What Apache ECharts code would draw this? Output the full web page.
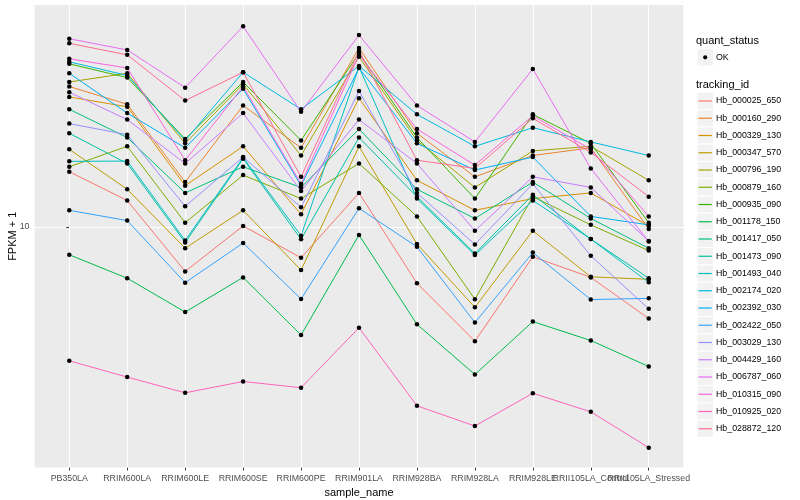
<!DOCTYPE html>
<html><head><meta charset="utf-8">
<script src="https://cdn.jsdelivr.net/npm/echarts@6/dist/echarts.min.js"></script>
<style>html,body{margin:0;padding:0;background:#fff}#c{width:800px;height:500px}</style>
</head><body><div id="c"></div>
<script>
const categories = ['PB350LA','RRIM600LA','RRIM600LE','RRIM600SE','RRIM600PE','RRIM901LA','RRIM928BA','RRIM928LA','RRIM928LE','RRII105LA_Control','RRII105LA_Stressed'];
const trackingIds = ['Hb_000025_650','Hb_000160_290','Hb_000329_130','Hb_000347_570','Hb_000796_190','Hb_000879_160','Hb_000935_090','Hb_001178_150','Hb_001417_050','Hb_001473_090','Hb_001493_040','Hb_002174_020','Hb_002392_030','Hb_002422_050','Hb_003029_130','Hb_004429_160','Hb_006787_060','Hb_010315_090','Hb_010925_020','Hb_028872_120'];
const colors = ['#F8766D','#EA8331','#D89000','#C09B00','#A3A500','#7CAE00','#39B600','#00BB4E','#00BF7D','#00C1A3','#00BFC4','#00BAE0','#00B0F6','#35A2FF','#9590FF','#C77CFF','#E76BF3','#FA62DB','#FF62BC','#FF6C91'];
const yTicks = [10];

// FPKM + 1 per sample, in category order
const Hb_000025_650 = [12.9, 11.3, 8.15, 10.05, 8.68, 11.7, 7.72, 5.91, 8.72, 7.93, 6.56];
const Hb_000160_290 = [19.1, 17.6, 12.3, 17.5, 14.4, 22.8, 15.4, 12.6, 13.9, 14.4, 9.91];
const Hb_000329_130 = [18.2, 17.4, 12.1, 14.5, 10.6, 18.1, 12.4, 10.8, 11.4, 11.7, 10.05];
const Hb_000347_570 = [14.3, 11.9, 9.07, 10.8, 8.20, 14.5, 9.25, 6.91, 9.83, 7.95, 7.86];
const Hb_000796_190 = [19.5, 20.3, 14.7, 19.3, 13.9, 21.9, 14.9, 12.0, 14.2, 14.5, 12.4];
const Hb_000879_160 = [13.2, 14.5, 10.2, 12.7, 11.4, 13.4, 10.5, 7.17, 11.5, 10.1, 8.97];
const Hb_000935_090 = [21.2, 19.9, 15.0, 19.5, 14.9, 22.3, 15.1, 11.4, 16.8, 14.7, 10.2];
const Hb_001178_150 = [8.80, 7.90, 6.76, 7.93, 6.08, 9.64, 6.39, 5.07, 6.47, 5.93, 5.26];
const Hb_001417_050 = [17.2, 15.1, 11.7, 13.2, 12.0, 15.7, 11.9, 10.4, 12.3, 10.4, 9.07];
const Hb_001473_090 = [15.4, 13.4, 9.31, 13.7, 9.45, 15.1, 11.5, 8.85, 11.6, 9.46, 7.90];
const Hb_001493_040 = [13.53, 13.55, 9.40, 13.77, 9.61, 20.9, 11.4, 8.79, 11.3, 9.46, 7.75];
const Hb_002174_020 = [21.4, 20.1, 14.9, 20.4, 17.2, 21.0, 16.8, 14.5, 15.8, 14.8, 13.9];
const Hb_002392_030 = [20.3, 16.9, 14.4, 18.9, 12.1, 20.8, 14.7, 13.0, 13.8, 10.5, 10.1];
const Hb_002422_050 = [10.8, 10.3, 7.74, 9.29, 7.18, 10.9, 9.13, 6.44, 8.89, 7.16, 7.20];
const Hb_003029_130 = [16.1, 15.3, 11.0, 13.8, 10.95, 18.7, 11.7, 9.23, 12.2, 8.76, 6.86];
const Hb_004429_160 = [18.6, 16.4, 13.4, 16.9, 11.8, 16.4, 13.4, 9.83, 12.6, 12.0, 9.38];
const Hb_006787_060 = [23.8, 22.6, 19.0, 25.2, 17.0, 24.2, 17.5, 14.8, 20.7, 13.1, 9.35];
const Hb_010315_090 = [21.7, 20.8, 13.6, 19.1, 12.2, 22.1, 15.7, 13.3, 16.7, 14.3, 10.5];
const Hb_010925_020 = [5.40, 5.01, 4.66, 4.91, 4.77, 6.29, 4.39, 4.00, 4.65, 4.27, 3.62];
const Hb_028872_120 = [23.3, 22.1, 17.9, 20.4, 12.6, 22.5, 13.6, 13.1, 16.5, 14.1, 11.5];

const seriesValues = [Hb_000025_650, Hb_000160_290, Hb_000329_130, Hb_000347_570, Hb_000796_190, Hb_000879_160, Hb_000935_090, Hb_001178_150, Hb_001417_050, Hb_001473_090, Hb_001493_040, Hb_002174_020, Hb_002392_030, Hb_002422_050, Hb_003029_130, Hb_004429_160, Hb_006787_060, Hb_010315_090, Hb_010925_020, Hb_028872_120];

const FONT = '"Liberation Sans", Arial, sans-serif';
const catIdx = categories.map((c, i) => i);
const n = categories.length;
// label groups on separate axes so the overlapping last labels are all drawn, as in the reference
const labelGroups = [catIdx.slice(0, n - 2), [n - 2], [n - 1]];

const chart = echarts.init(document.getElementById('c'), null, {renderer: 'canvas'});

const lineSeries = trackingIds.map((id, k) => ({
  name: id, type: 'line', z: 2, silent: true,
  data: seriesValues[k].map((v, i) => [i, v]),
  showSymbol: false, symbol: 'none',
  lineStyle: {color: colors[k], width: 1},
  itemStyle: {color: colors[k]}
}));

const pts = [];
seriesValues.forEach(a => a.forEach((v, i) => pts.push([i, v])));

const gridSeries = {
  type: 'line', data: [], z: 1, silent: true,
  markLine: {
    silent: true, animation: false, symbol: ['none', 'none'],
    label: {show: false},
    lineStyle: {color: '#FFFFFF', width: 1.1, type: 'solid'},
    emphasis: {disabled: true},
    data: catIdx.map(i => ({xAxis: i}))
  }
};

// legend (ggplot style) built from the arrays
const g = [];
g.push({type: 'text', x: 696, y: 41, z: 10, style: {text: 'quant_status', fontSize: 11, fontFamily: FONT, fill: '#000', verticalAlign: 'middle'}});
g.push({type: 'rect', z: 10, shape: {x: 697, y: 48.7, width: 16.5, height: 17.2}, style: {fill: '#F2F2F2', stroke: '#FFFFFF', lineWidth: 1}});
g.push({type: 'circle', z: 11, shape: {cx: 705.2, cy: 57.3, r: 2.1}, style: {fill: '#000'}});
g.push({type: 'text', x: 716, y: 57.3, z: 11, style: {text: 'OK', fontSize: 8.8, fontFamily: FONT, fill: '#000', verticalAlign: 'middle'}});
g.push({type: 'text', x: 696, y: 84.5, z: 10, style: {text: 'tracking_id', fontSize: 11, fontFamily: FONT, fill: '#000', verticalAlign: 'middle'}});
trackingIds.forEach((id, k) => {
  const yc = 101 + 17.25 * k;
  g.push({type: 'rect', z: 10, shape: {x: 697, y: yc - 8.62, width: 16.5, height: 17.25}, style: {fill: '#F2F2F2', stroke: '#FFFFFF', lineWidth: 1}});
  g.push({type: 'line', z: 11, shape: {x1: 698.5, y1: yc, x2: 711.8, y2: yc}, style: {stroke: colors[k], lineWidth: 1.2}});
  g.push({type: 'text', x: 716, y: yc, z: 11, style: {text: id, fontSize: 8.8, fontFamily: FONT, fill: '#000', verticalAlign: 'middle'}});
});

const xLabelStyle = {color: '#4D4D4D', fontSize: 8.8, fontFamily: FONT, margin: 6.5, hideOverlap: false,
  formatter: v => categories[Math.round(v)] || ''};

const xAxes = labelGroups.map((grp, j) => {
  const ax = {
    type: 'value', min: -0.6, max: 10.6, position: 'bottom', offset: 0,
    axisLine: {show: false},
    splitLine: {show: false},
    axisTick: j === 0 ? {show: true, length: 3, customValues: catIdx, lineStyle: {color: '#333333', width: 1}} : {show: false},
    axisLabel: Object.assign({customValues: grp}, xLabelStyle)
  };
  if (j === 0) {
    ax.name = 'sample_name'; ax.nameLocation = 'middle'; ax.nameGap = 19;
    ax.nameTextStyle = {color: '#000', fontSize: 11, fontFamily: FONT};
  }
  return ax;
});

chart.setOption({
  animation: false,
  backgroundColor: '#FFFFFF',
  grid: {left: 34.5, right: 116.5, top: 5, bottom: 32.5, show: true, backgroundColor: '#EBEBEB', borderWidth: 0, containLabel: false, outerBoundsMode: 'none'},
  xAxis: xAxes,
  yAxis: {
    type: 'log', logBase: 10, min: 3.304, max: 27.8,
    axisLine: {show: false},
    axisTick: {show: true, length: 3, customValues: yTicks, lineStyle: {color: '#333333', width: 1}},
    axisLabel: {customValues: yTicks, color: '#4D4D4D', fontSize: 8.8, fontFamily: FONT, margin: 5, formatter: v => String(Math.round(v))},
    splitLine: {show: true, lineStyle: {color: '#FFFFFF', width: 1.1}},
    name: 'FPKM + 1', nameLocation: 'middle', nameGap: 16, nameRotate: 90, nameMoveOverlap: false,
    nameTextStyle: {color: '#000', fontSize: 11, fontFamily: FONT}
  },
  graphic: {elements: g},
  series: [gridSeries].concat(lineSeries).concat([{
    name: 'OK', type: 'scatter', data: pts, symbol: 'circle', symbolSize: 4.5, z: 5, silent: true,
    itemStyle: {color: '#000000', opacity: 1}
  }])
});
</script>
</body></html>
